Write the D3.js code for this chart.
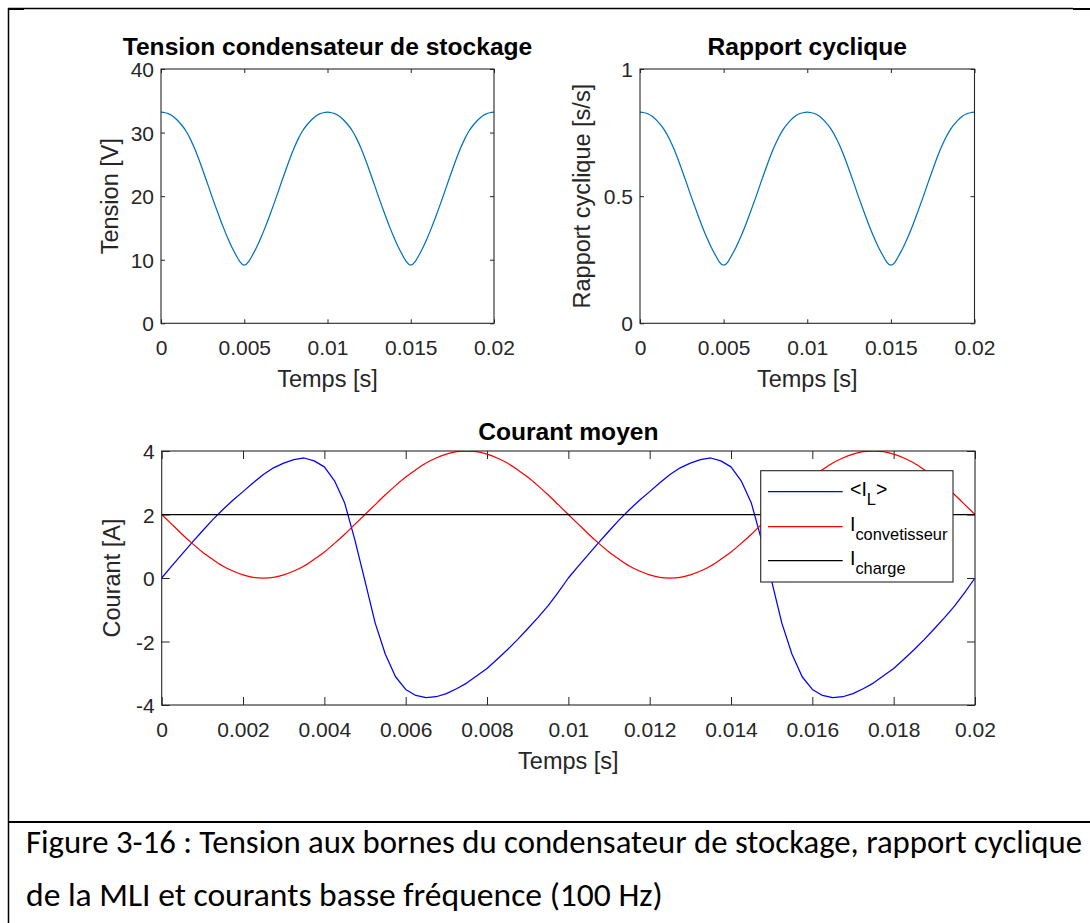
<!DOCTYPE html>
<html>
<head>
<meta charset="utf-8">
<script src="https://cdn.jsdelivr.net/npm/d3@7"></script>
<style>
  body { margin: 0; background: #fff; }
  svg { display: block; }
</style>
</head>
<body>
<svg width="1090" height="923"></svg>
<script>
// sampling step of the simulated signals (s)
var tStep = 0.00025;

// tension condensateur de stockage [V]
var vCap = [33.2,33.12,32.9,32.5,31.9,31.15,30.25,29.05,27.6,25.95,24.15,22.3,20.4,18.55,16.75,15.05,13.45,12.0,10.75,9.65,9.15,
  9.65,10.75,12.0,13.45,15.05,16.75,18.55,20.4,22.3,24.15,25.95,27.6,29.05,30.25,31.15,31.9,32.5,32.9,33.12,33.2,
  33.12,32.9,32.5,31.9,31.15,30.25,29.05,27.6,25.95,24.15,22.3,20.4,18.55,16.75,15.05,13.45,12.0,10.75,9.65,9.15,
  9.65,10.75,12.0,13.45,15.05,16.75,18.55,20.4,22.3,24.15,25.95,27.6,29.05,30.25,31.15,31.9,32.5,32.9,33.12,33.2];

// rapport cyclique [s/s]
var duty = [0.83,0.828,0.823,0.813,0.798,0.779,0.756,0.726,0.69,0.649,0.604,0.558,0.51,0.464,0.419,0.376,0.336,0.3,0.269,0.241,0.229,
  0.241,0.269,0.3,0.336,0.376,0.419,0.464,0.51,0.558,0.604,0.649,0.69,0.726,0.756,0.779,0.798,0.813,0.823,0.828,0.83,
  0.828,0.823,0.813,0.798,0.779,0.756,0.726,0.69,0.649,0.604,0.558,0.51,0.464,0.419,0.376,0.336,0.3,0.269,0.241,0.229,
  0.241,0.269,0.3,0.336,0.376,0.419,0.464,0.51,0.558,0.604,0.649,0.69,0.726,0.756,0.779,0.798,0.813,0.823,0.828,0.83];

// <I_L> [A]
var iL = [0,0.38,0.75,1.12,1.48,1.83,2.15,2.45,2.72,3.0,3.26,3.47,3.62,3.73,3.78,3.69,3.5,3.06,2.36,1.2,
  -0.1,-1.42,-2.4,-3.11,-3.51,-3.7,-3.77,-3.74,-3.64,-3.49,-3.31,-3.08,-2.85,-2.56,-2.26,-1.94,-1.6,-1.25,-0.88,-0.45,0,
  0.38,0.75,1.12,1.48,1.83,2.15,2.45,2.72,3.0,3.26,3.47,3.62,3.73,3.78,3.69,3.5,3.06,2.36,1.2,
  -0.1,-1.42,-2.4,-3.11,-3.51,-3.7,-3.77,-3.74,-3.64,-3.49,-3.31,-3.08,-2.85,-2.56,-2.26,-1.94,-1.6,-1.25,-0.88,-0.45,0];

// I convetisseur [A]
var iConv = [2,1.69,1.38,1.09,0.82,0.59,0.38,0.22,0.1,0.02,0,0.02,0.1,0.22,0.38,0.59,0.82,1.09,1.38,1.69,
  2,2.31,2.62,2.91,3.18,3.41,3.62,3.78,3.9,3.98,4,3.98,3.9,3.78,3.62,3.41,3.18,2.91,2.62,2.31,2,
  1.69,1.38,1.09,0.82,0.59,0.38,0.22,0.1,0.02,0,0.02,0.1,0.22,0.38,0.59,0.82,1.09,1.38,1.69,
  2,2.31,2.62,2.91,3.18,3.41,3.62,3.78,3.9,3.98,4,3.98,3.9,3.78,3.62,3.41,3.18,2.91,2.62,2.31,2];

// I charge [A]
var tCharge = [0, 0.02];
var iCharge = [2, 2];

// ticks
var xTicksTop = [0, 0.005, 0.01, 0.015, 0.02];
var xLabelsTop = ["0", "0.005", "0.01", "0.015", "0.02"];
var xTicksBot = [0, 0.002, 0.004, 0.006, 0.008, 0.01, 0.012, 0.014, 0.016, 0.018, 0.02];
var xLabelsBot = ["0", "0.002", "0.004", "0.006", "0.008", "0.01", "0.012", "0.014", "0.016", "0.018", "0.02"];
var yTicksV = [0, 10, 20, 30, 40];
var yLabelsV = ["0", "10", "20", "30", "40"];
var yTicksD = [0, 0.5, 1];
var yLabelsD = ["0", "0.5", "1"];
var yTicksI = [-4, -2, 0, 2, 4];
var yLabelsI = ["-4", "-2", "0", "2", "4"];

var legendNames = [["<I", "L", ">"], ["I", "convetisseur", ""], ["I", "charge", ""]];
var legendColors = ["#0000ff", "#ff0000", "#000000"];

var captionLines = [
  "Figure 3-16 : Tension aux bornes du condensateur de stockage, rapport cyclique",
  "de la MLI et courants basse fréquence (100 Hz)"
];

var font = "'Liberation Sans', Arial, Helvetica, sans-serif";
var axisColor = "#262626";
var svg = d3.select("svg");
var defs = svg.append("defs");

function toPoints(arr) {
  return arr.map(function(v, i) { return [i * tStep, v]; });
}

function makePanel(p) {
  var g = svg.append("g").attr("transform", "translate(" + p.left + "," + p.top + ")");
  var x = d3.scaleLinear().domain([0, 0.02]).range([0, p.w]);
  var y = d3.scaleLinear().domain(p.yDomain).range([p.h, 0]);

  defs.append("clipPath").attr("id", p.id)
    .append("rect").attr("width", p.w).attr("height", p.h);

  var fmtX = function(d, i) { return p.xLabels[i]; };
  var fmtY = function(d, i) { return p.yLabels[i]; };

  var xb = g.append("g").attr("transform", "translate(0," + p.h + ")")
    .call(d3.axisBottom(x).tickValues(p.xTicks).tickFormat(fmtX).tickSizeInner(-p.tick).tickSizeOuter(0));
  g.append("g")
    .call(d3.axisTop(x).tickValues(p.xTicks).tickFormat("").tickSizeInner(-p.tick).tickSizeOuter(0));
  var yl = g.append("g")
    .call(d3.axisLeft(y).tickValues(p.yTicks).tickFormat(fmtY).tickSizeInner(-p.tick).tickSizeOuter(0));
  g.append("g").attr("transform", "translate(" + p.w + ",0)")
    .call(d3.axisRight(y).tickValues(p.yTicks).tickFormat("").tickSizeInner(-p.tick).tickSizeOuter(0));

  g.selectAll(".domain").remove();
  g.selectAll(".tick line").attr("stroke", axisColor).attr("stroke-width", 1);

  xb.selectAll("text")
    .attr("y", 31.7).attr("dy", null)
    .attr("fill", axisColor).attr("font-family", font).attr("font-size", 21);
  yl.selectAll("text")
    .attr("x", -7).attr("dy", "0.36em")
    .attr("fill", axisColor).attr("font-family", font).attr("font-size", 21);

  var plot = g.append("g").attr("clip-path", "url(#" + p.id + ")");

  g.append("text")
    .attr("x", p.w / 2).attr("y", p.titleY)
    .attr("text-anchor", "middle")
    .attr("font-family", font).attr("font-size", 24.6).attr("font-weight", "bold")
    .attr("fill", "#000")
    .text(p.title);

  g.append("text")
    .attr("x", p.w / 2).attr("y", p.h + 63.7)
    .attr("text-anchor", "middle")
    .attr("font-family", font).attr("font-size", 23.5)
    .attr("fill", axisColor)
    .text("Temps [s]");

  g.append("text")
    .attr("transform", "translate(" + p.yLabelX + "," + (p.h / 2) + ") rotate(-90)")
    .attr("text-anchor", "middle")
    .attr("font-family", font).attr("font-size", 23.5)
    .attr("fill", axisColor)
    .text(p.yLabel);

  return { g: g, plot: plot, x: x, y: y, w: p.w, h: p.h };
}

function drawLine(panel, pts, color, curve) {
  var line = d3.line()
    .x(function(d) { return panel.x(d[0]); })
    .y(function(d) { return panel.y(d[1]); })
    .curve(curve || d3.curveLinear);
  panel.plot.append("path")
    .datum(pts)
    .attr("fill", "none")
    .attr("stroke", color)
    .attr("stroke-width", 1.25)
    .attr("stroke-linejoin", "round")
    .attr("d", line);
}

function drawBox(panel) {
  panel.g.append("rect")
    .attr("width", panel.w).attr("height", panel.h)
    .attr("fill", "none").attr("stroke", axisColor).attr("stroke-width", 1.1);
}

// page frame (document table)
svg.append("rect").attr("width", 1090).attr("height", 923).attr("fill", "#fff").lower();
svg.append("line").attr("x1", 8.5).attr("x2", 8.5).attr("y1", 8).attr("y2", 923)
  .attr("stroke", "#000").attr("stroke-width", 1.5);
svg.append("line").attr("x1", 8).attr("x2", 1073).attr("y1", 8.5).attr("y2", 8.5)
  .attr("stroke", "#000").attr("stroke-width", 1.3);
svg.append("line").attr("x1", 1073).attr("x2", 1090).attr("y1", 9).attr("y2", 9)
  .attr("stroke", "#000").attr("stroke-width", 2);
svg.append("line").attr("x1", 8).attr("x2", 24).attr("y1", 9).attr("y2", 9)
  .attr("stroke", "#000").attr("stroke-width", 2);
svg.append("line").attr("x1", 8).attr("x2", 1090).attr("y1", 822).attr("y2", 822)
  .attr("stroke", "#000").attr("stroke-width", 2);

// Tension condensateur de stockage
var p1 = makePanel({
  id: "clipV", left: 161, top: 69, w: 333, h: 254.3,
  yDomain: [0, 40], xTicks: xTicksTop, xLabels: xLabelsTop, yTicks: yTicksV, yLabels: yLabelsV,
  tick: 4, title: "Tension condensateur de stockage", titleY: -14,
  yLabel: "Tension [V]", yLabelX: -43
});
drawLine(p1, toPoints(vCap), "#0072bd", d3.curveNatural);
drawBox(p1);

// Rapport cyclique
var p2 = makePanel({
  id: "clipD", left: 640, top: 69, w: 334.5, h: 254.3,
  yDomain: [0, 1], xTicks: xTicksTop, xLabels: xLabelsTop, yTicks: yTicksD, yLabels: yLabelsD,
  tick: 4, title: "Rapport cyclique", titleY: -14,
  yLabel: "Rapport cyclique [s/s]", yLabelX: -50
});
drawLine(p2, toPoints(duty), "#0072bd", d3.curveNatural);
drawBox(p2);

// Courant moyen
var p3 = makePanel({
  id: "clipI", left: 161.7, top: 451, w: 813.3, h: 254,
  yDomain: [-4, 4], xTicks: xTicksBot, xLabels: xLabelsBot, yTicks: yTicksI, yLabels: yLabelsI,
  tick: 8, title: "Courant moyen", titleY: -11,
  yLabel: "Courant [A]", yLabelX: -41.5
});
drawLine(p3, toPoints(iL), legendColors[0]);
drawLine(p3, toPoints(iConv), legendColors[1], d3.curveNatural);
drawLine(p3, tCharge.map(function(t, i) { return [t, iCharge[i]]; }), legendColors[2]);
drawBox(p3);

// legend
var lg = svg.append("g").attr("transform", "translate(760.7,470.7)");
lg.append("rect").attr("width", 192.3).attr("height", 111.3)
  .attr("fill", "#fff").attr("stroke", axisColor).attr("stroke-width", 1.1);
var rowY = [21, 56, 90];
var rows = lg.selectAll("g.row").data(legendNames).enter().append("g")
  .attr("class", "row")
  .attr("transform", function(d, i) { return "translate(0," + rowY[i] + ")"; });
rows.append("line")
  .attr("x1", 7.3).attr("x2", 82)
  .attr("stroke", function(d, i) { return legendColors[i]; })
  .attr("stroke-width", 1.25);
var lt = rows.append("text")
  .attr("x", 89.3).attr("y", 4.5)
  .attr("font-family", font).attr("font-size", 19.5).attr("fill", "#000");
lt.append("tspan").text(function(d) { return d[0]; });
lt.append("tspan").attr("dy", 8.8).attr("font-size", 16.4).text(function(d) { return d[1]; });
lt.append("tspan").attr("dy", -8.8).text(function(d) { return d[2]; });

// caption: size fitted on the last line, first line justified with word spacing
var capY = [853, 906];
var capW = [1056, 637];
var cap = svg.selectAll("text.caption").data(captionLines).enter().append("text")
  .attr("class", "caption")
  .attr("x", 26).attr("y", function(d, i) { return capY[i]; })
  .attr("font-family", "Carlito, Lato, 'Open Sans', sans-serif")
  .attr("font-size", 26)
  .attr("fill", "#000")
  .text(function(d) { return d; });
var natural2 = cap.nodes()[1].getComputedTextLength();
var capSize = 26 * capW[1] / natural2;
cap.attr("font-size", capSize);
var line1 = cap.nodes()[0];
var natural1 = line1.getComputedTextLength();
var nSpaces = captionLines[0].split(" ").length - 1;
if (natural1 < capW[0]) {
  d3.select(line1).attr("word-spacing", (capW[0] - natural1) / nSpaces);
} else {
  d3.select(line1).attr("textLength", capW[0]).attr("lengthAdjust", "spacingAndGlyphs");
}
</script>
</body>
</html>
